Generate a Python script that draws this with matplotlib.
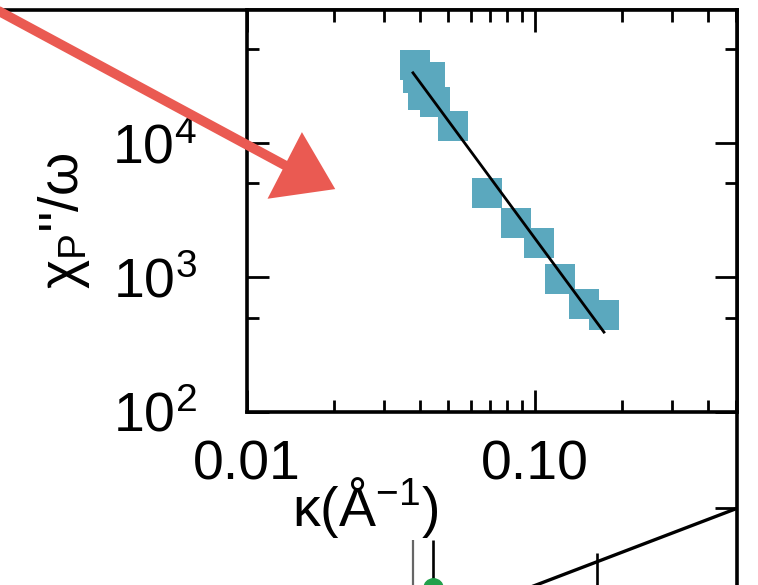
import matplotlib
matplotlib.use("Agg")
import matplotlib.pyplot as plt
from matplotlib.patches import Polygon
from matplotlib.lines import Line2D

plt.rcParams['font.family'] = ['Liberation Sans', 'DejaVu Sans']
plt.rcParams['mathtext.fontset'] = 'custom'
plt.rcParams['mathtext.rm'] = 'Liberation Sans'
plt.rcParams['mathtext.it'] = 'Liberation Sans'
plt.rcParams['mathtext.bf'] = 'Liberation Sans:bold'

# ---------------- data (inset) ----------------
kappa = [0.0383, 0.0393, 0.0432, 0.0408, 0.0450, 0.0519, 0.0681,
         0.0859, 0.1033, 0.1222, 0.148, 0.1737]
chi = [37900, 30300, 30800, 22700, 20100, 13200, 4260,
       2550, 1790, 966, 631, 524]
fit_kappa = [0.0377, 0.1736]
fit_chi = [33000, 392]

xticks = [0.01, 0.1]
xtick_labels = ['0.01', '0.10']
yticks = [1e2, 1e3, 1e4]
ytick_labels = [r'$\mathregular{10^{2}}$', r'$\mathregular{10^{3}}$', r'$\mathregular{10^{4}}$']

# ---------------- data (fragments of the main panel) ----------------
main_line_x = [5.0, 7.37]
main_line_y = [-0.18, 1.0]
main_bar_x = [5.97]
main_bar_top = [0.417]
main_bar_bottom = [-0.3]
grey_bar_x = [4.13]
black_bar_x = [4.33]
bar_top = [0.587]
bar_bottom = [-0.3]
green_x = [4.33]
green_y = [-0.04]

TEAL = '#5BA8BE'
RED = '#EA5A52'
LW = 2.6

fig = plt.figure(figsize=(7.58, 5.85), dpi=100)
W, H = 758.0, 585.0

# main (outer) axes fragment
ax0 = fig.add_axes([0, 0, 737 / W, 1 - 10 / H])
ax0.set_xlim(0, 7.37)
ax0.set_ylim(0, 7.5)
for s in ['left', 'bottom']:
    ax0.spines[s].set_visible(False)
for s in ['top', 'right']:
    ax0.spines[s].set_linewidth(LW)
ax0.set_xticks([])
ax0.yaxis.tick_right()
ax0.set_yticks([1.0])
ax0.tick_params(axis='y', direction='in', length=16, width=2.0, labelright=False)
ax0.plot(main_line_x, main_line_y, color='black', lw=2.4, clip_on=True)
ax0.vlines(main_bar_x, main_bar_bottom, main_bar_top, color='black', lw=1.9)
ax0.vlines(grey_bar_x, bar_bottom, bar_top, color='#666666', lw=1.6)
ax0.vlines(black_bar_x, bar_bottom, bar_top, color='black', lw=1.9)
ax0.plot(green_x, green_y, 'o', color='#22A04B', ms=14, clip_on=False)

# inset axes
ax = fig.add_axes([247 / W, 1 - 412 / H, 490 / W, 402 / H])
ax.set_facecolor('white')
ax.set_xscale('log')
ax.set_yscale('log')
ax.set_xlim(0.01, 0.503)
ax.set_ylim(1e2, 9.66e4)

ax.plot(kappa, chi, 's', color=TEAL, ms=21.5, mec=TEAL, mew=0, zorder=2)
ax.plot(fit_kappa, fit_chi, '-', color='black', lw=2.0, zorder=3)

for s in ax.spines.values():
    s.set_linewidth(LW)

ax.set_xticks(xticks, labels=xtick_labels)
ax.set_xticks([v * m for v in (0.01, 0.1) for m in range(2, 10) if v * m <= 0.5], minor=True)
ax.set_yticks(yticks, labels=ytick_labels)
ax.set_yticks([5e2, 5e3, 5e4], minor=True)
ax.yaxis.set_minor_formatter(matplotlib.ticker.NullFormatter())
ax.xaxis.set_minor_formatter(matplotlib.ticker.NullFormatter())

ax.tick_params(which='both', direction='in', top=True, right=True, width=2.0)
ax.tick_params(which='major', length=16)
ax.tick_params(which='minor', length=8.6)
ax.tick_params(axis='x', which='major', labelsize=40, pad=20)
ax.tick_params(axis='y', which='major', labelsize=40, pad=36)

ax.set_xlabel('κ(Å$^{\\mathregular{-1}}$)', fontsize=40, va='top')
ax.xaxis.set_label_coords((365 - 247) / 490, -63 / 402)
ax.set_ylabel(r"$\chi_{\mathregular{P}}$''/$\omega$", fontsize=40)
ax.yaxis.set_label_coords((92 - 247) / 490, (412 - 221) / 402)

# red hand-drawn arrow (annotation)
def fx(x):
    return x / W

def fy(y):
    return 1 - y / H

fig.add_artist(Line2D([fx(-5), fx(290)], [fy(9), fy(168)], color=RED, lw=7,
                      solid_capstyle='round', transform=fig.transFigure, zorder=10))
fig.add_artist(Polygon([(fx(302), fy(135)), (fx(270), fy(197)), (fx(333), fy(188))],
                       closed=True, facecolor=RED, edgecolor=RED, lw=2,
                       transform=fig.transFigure, zorder=10))

fig.savefig('out.png', dpi=100)
